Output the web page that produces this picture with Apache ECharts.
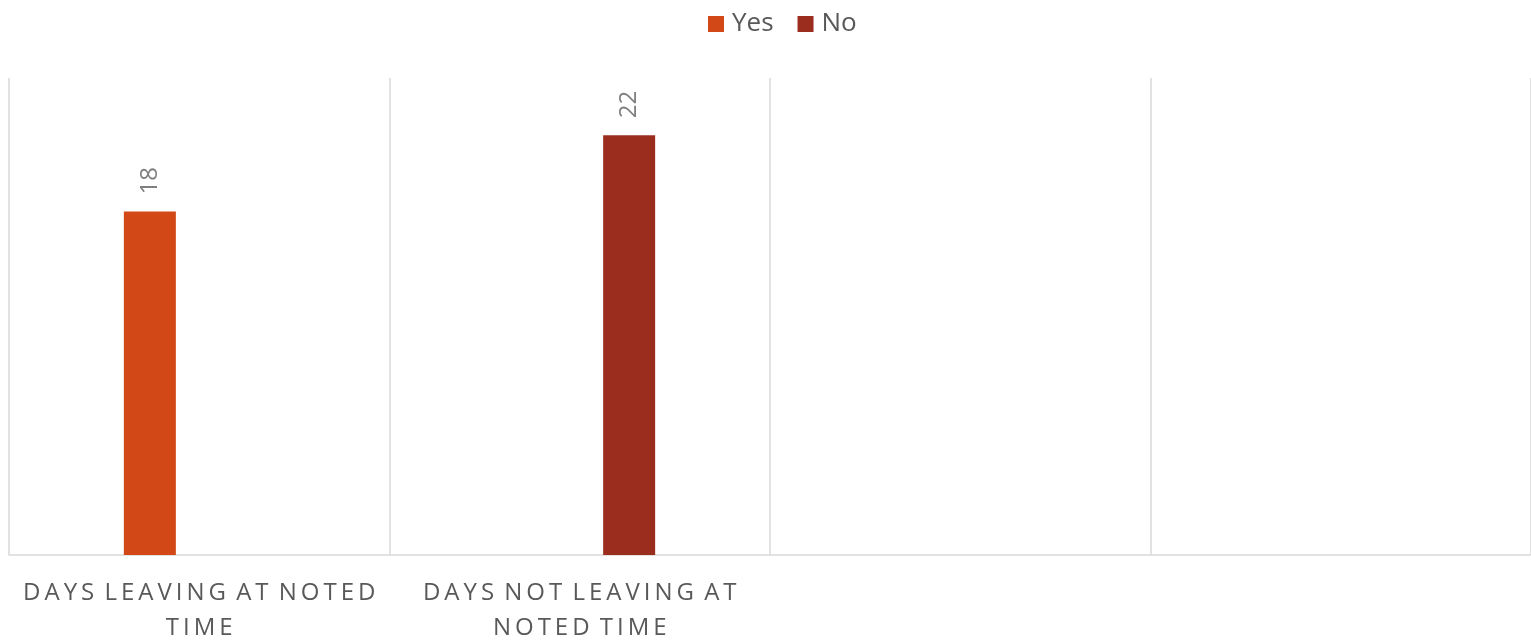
<!DOCTYPE html>
<html>
<head>
<meta charset="utf-8">
<script src="https://cdn.jsdelivr.net/npm/echarts@6/dist/echarts.min.js"></script>
<style>
	html,body{margin:0;padding:0;background:#fff}
	#chart{width:1531px;height:642px}
</style>
</head>
<body>
<div id="chart"></div>
<script type="text/javascript">
	var categories = ['Days leaving at noted time', 'Days not leaving at noted time', '', ''];
	var seriesNames = ['Yes', 'No'];
	var yesValues = [18, null, null, null];
	var noValues = [null, 22, null, null];
	var colors = ['#D34817', '#9B2D1F'];

	// fake letter spacing with thin spaces, wrap at ~21 chars
	function spaced(word){
		return word.split('').join('\u2009');
	}
	function catLabel(name){
		var words = name.toUpperCase().split(' ');
		var lines = [], cur = '';
		for(var i=0;i<words.length;i++){
			if(!words[i]) continue;
			var next = cur ? cur + ' ' + words[i] : words[i];
			if(next.length > 21 && cur){
				lines.push(cur);
				cur = words[i];
			}else{
				cur = next;
			}
		}
		if(cur) lines.push(cur);
		return lines.map(function(l){
			return l.split(' ').map(spaced).join('\u2009 ');
		}).join('\n');
	}

	var labelOpt = {
		show: true,
		position: 'top',
		rotate: 90,
		align: 'left',
		verticalAlign: 'middle',
		distance: 17,
		color: '#7f7f7f',
		fontSize: 24,
		fontFamily: 'Open Sans'
	};

	var option = {
		animation: false,
		textStyle: {fontFamily: 'Open Sans'},
		legend: {
			top: 6,
			left: 703,
			icon: 'rect',
			itemWidth: 16,
			itemHeight: 16,
			itemGap: 24,
			textStyle: {fontSize: 26, color: '#595959', fontFamily: 'Open Sans', padding: [0, 0, 0, 3]},
			data: seriesNames
		},
		grid: {left: 9, right: 0, top: 78, bottom: 87, outerBoundsMode: 'none'},
		xAxis: [{
			type: 'category',
			data: categories,
			axisLine: {lineStyle: {color: '#d9d9d9', width: 1.5}},
			axisTick: {show: false},
			splitLine: {show: true, lineStyle: {color: '#d9d9d9', width: 1.5}},
			axisLabel: {
				interval: 0,
				margin: 21,
				color: '#595959',
				fontSize: 24,
				lineHeight: 35,
				fontFamily: 'Open Sans',
				formatter: catLabel
			}
		}],
		yAxis: [{
			type: 'value',
			min: 0,
			max: 25,
			show: false,
			splitLine: {show: false}
		}],
		series: [{
			name: seriesNames[0],
			type: 'bar',
			data: yesValues,
			barWidth: 52,
			barGap: '90%',
			itemStyle: {color: colors[0]},
			label: labelOpt
		},{
			name: seriesNames[1],
			type: 'bar',
			data: noValues,
			barWidth: 52,
			barGap: '90%',
			itemStyle: {color: colors[1]},
			label: labelOpt
		}]
	};
	var myChart = echarts.init(document.getElementById('chart'));
	myChart.setOption(option);
</script>
</body>
</html>
